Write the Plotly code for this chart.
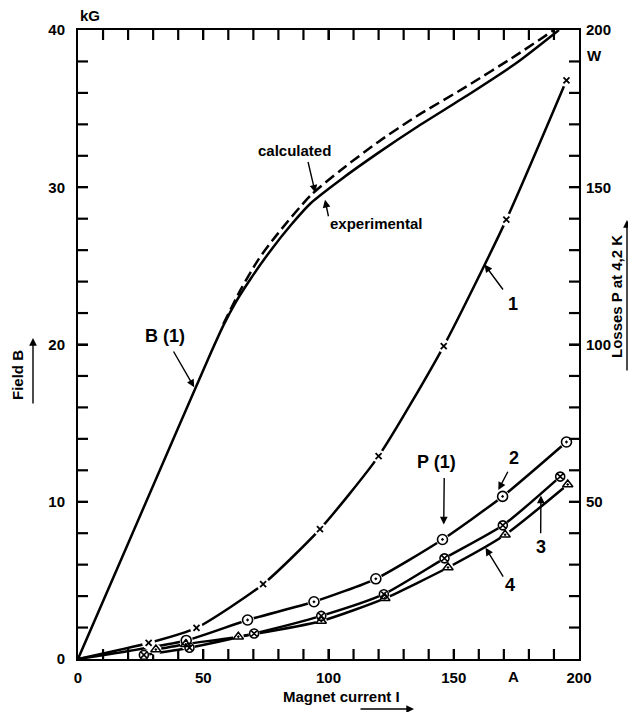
import plotly.graph_objects as go

# ---------------- data ----------------
# Field B(I), experimental (solid) and calculated (dashed), kG vs A
I_B_exp = [0, 20, 40, 52, 58, 63, 69, 77, 85, 93, 105, 120, 135, 155, 175, 192]
B_exp = [0, 7.35, 14.7, 19.1, 21.2, 22.7, 24.2, 26.0, 27.6, 29.0, 30.5, 32.2, 33.8, 35.8, 37.9, 40.0]
I_B_calc = [58, 65, 72, 80, 93, 105, 120, 135, 155, 175, 190]
B_calc = [21.3, 23.5, 25.4, 27.1, 29.5, 31.1, 32.9, 34.5, 36.4, 38.4, 40.0]

# Losses P(I) at 4.2 K, W vs A
I_p1 = [0, 28.2, 47.3, 73.9, 96.6, 120, 146, 171, 195]
P_p1 = [0, 5.1, 9.9, 23.8, 41.3, 64.5, 99.5, 139.7, 184]
I_p2 = [0, 43.2, 67.7, 94.2, 118.9, 145.5, 169.5, 195]
P_p2 = [0, 5.9, 12.4, 18.2, 25.5, 38.0, 51.7, 69.0]
I_p3 = [26.3, 44.5, 70.3, 97.1, 122.1, 146.3, 169.6, 192.5]
P_p3 = [1.3, 3.6, 8.1, 13.7, 20.6, 32.0, 42.5, 58.0]
I_p4 = [31.1, 43.0, 64.0, 97.1, 122.5, 147.7, 170.5, 195.5]
P_p4 = [3.0, 4.7, 7.1, 12.1, 19.3, 29.1, 39.5, 55.5]

# axis ticks
I_label_ticks = [0, 50, 100, 150, 200]
B_label_ticks = [0, 10, 20, 30, 40]
P_label_ticks = [50, 100, 150, 200]
I_tick_marks = list(range(10, 200, 10))
B_tick_marks = list(range(2, 40, 2))
P_tick_marks = list(range(10, 200, 10))

I_RANGE = [0, 200]
B_RANGE = [0, 40]
P_RANGE = [0, 200]

# ---------------- layout geometry ----------------
W, H = 628, 712
ML, MR, MT, MB = 78, 49, 30, 53
PW, PH = W - ML - MR, H - MT - MB
FONT = "Liberation Sans"
TICKLEN = 10
TICKW = 2.2


def pp(xp, yp):
    """pixel -> paper coordinates"""
    return (xp - ML) / PW, (H - MB - yp) / PH


fig = go.Figure()

lw = 2.5
# B curves
fig.add_trace(go.Scatter(x=I_B_exp, y=B_exp, mode="lines",
                         line=dict(color="black", width=lw, shape="spline", smoothing=0.7)))
fig.add_trace(go.Scatter(x=I_B_calc, y=B_calc, mode="lines",
                         line=dict(color="black", width=lw, dash="11px,5px", shape="spline", smoothing=0.7)))

# P curve lines
for xs, ys in [(I_p1, P_p1), (I_p2, P_p2), (I_p3, P_p3), (I_p4, P_p4)]:
    fig.add_trace(go.Scatter(x=xs, y=ys, yaxis="y2", mode="lines",
                             line=dict(color="black", width=lw, shape="spline", smoothing=0.6)))

# white gaps around markers
for xs, ys, sz in [(I_p1[1:], P_p1[1:], 13), (I_p2[1:], P_p2[1:], 13),
                   (I_p3, P_p3, 11), (I_p4, P_p4, 11)]:
    fig.add_trace(go.Scatter(x=xs, y=ys, yaxis="y2", mode="markers",
                             marker=dict(color="white", size=sz, line=dict(width=0))))

# markers
fig.add_trace(go.Scatter(x=I_p1[1:], y=P_p1[1:], yaxis="y2", mode="markers",
                         marker=dict(symbol="x-thin-open", size=6, color="black",
                                     line=dict(color="black", width=1.8))))
fig.add_trace(go.Scatter(x=I_p2[1:], y=P_p2[1:], yaxis="y2", mode="markers",
                         marker=dict(symbol="circle-open-dot", size=10, color="black",
                                     line=dict(color="black", width=1.6))))
fig.add_trace(go.Scatter(x=I_p3, y=P_p3, yaxis="y2", mode="markers",
                         marker=dict(symbol="circle-x-open", size=9, color="black",
                                     line=dict(color="black", width=1.6))))
fig.add_trace(go.Scatter(x=I_p4, y=P_p4, yaxis="y2", mode="markers",
                         marker=dict(symbol="triangle-up-open-dot", size=9, color="black",
                                     line=dict(color="black", width=1.5))))

# inside tick marks, drawn as line segments of TICKLEN pixels at the axis values
dI = TICKLEN / PW * (I_RANGE[1] - I_RANGE[0])
dB = TICKLEN / PH * (B_RANGE[1] - B_RANGE[0])
tx, ty = [], []
for v in I_tick_marks:
    tx += [v, v, None, v, v, None]
    ty += [B_RANGE[0], B_RANGE[0] + dB, None, B_RANGE[1], B_RANGE[1] - dB, None]
for v in B_tick_marks:
    tx += [I_RANGE[0], I_RANGE[0] + dI, None]
    ty += [v, v, None]
fig.add_trace(go.Scatter(x=tx, y=ty, mode="lines", line=dict(color="black", width=TICKW),
                         hoverinfo="skip"))
rx, ry = [], []
for v in P_tick_marks:
    rx += [I_RANGE[1], I_RANGE[1] - dI, None]
    ry += [v, v, None]
fig.add_trace(go.Scatter(x=rx, y=ry, yaxis="y2", mode="lines", line=dict(color="black", width=TICKW),
                         hoverinfo="skip"))

tfont = dict(family=FONT, size=15, color="black", weight="bold")
base = dict(showline=True, linecolor="black", linewidth=2, showgrid=False, zeroline=False,
            ticks="inside", ticklen=TICKLEN, tickwidth=TICKW, tickcolor="black", tickfont=tfont)

fig.update_layout(
    width=W, height=H,
    margin=dict(l=ML, r=MR, t=MT, b=MB),
    paper_bgcolor="white", plot_bgcolor="white",
    showlegend=False,
    xaxis=dict(range=I_RANGE, tickmode="array", tickvals=I_label_ticks, mirror="ticks",
               ticklabelstandoff=4, **base),
    yaxis=dict(range=B_RANGE, tickmode="array", tickvals=B_label_ticks, ticklabelstandoff=8, **base),
    yaxis2=dict(range=P_RANGE, overlaying="y", side="right", tickmode="array",
                tickvals=P_label_ticks, ticklabelstandoff=2, **base),
)

anns = []


def txt(text, x, y, size=14, xref="paper", yref="paper", angle=0):
    anns.append(dict(text=text, x=x, y=y, xref=xref, yref=yref, showarrow=False,
                     textangle=angle, xanchor="center", yanchor="middle",
                     font=dict(family=FONT, size=size, color="black", weight="bold")))


def arrow_data(x, y, ax, ay, width=1.4):
    anns.append(dict(text="", x=x, y=y, ax=ax, ay=ay, xref="x", yref="y", axref="x", ayref="y",
                     showarrow=True, arrowhead=2, arrowsize=1.1, arrowwidth=width,
                     arrowcolor="black", standoff=0, startstandoff=0))


def arrow_px(xp, yp, dx, dy):
    px, py = pp(xp, yp)
    anns.append(dict(text="", x=px, y=py, ax=dx, ay=dy, xref="paper", yref="paper",
                     showarrow=True, arrowhead=2, arrowsize=1.1, arrowwidth=1.4,
                     arrowcolor="black", standoff=0, startstandoff=0))


# axis titles and units
txt("kG", *pp(90, 15), size=15)
txt("W", *pp(594, 56), size=15)
anns.append(dict(text="A", x=174, y=pp(0, 676)[1], xref="x", yref="paper", showarrow=False,
                 yanchor="middle", xanchor="center",
                 font=dict(family=FONT, size=15, color="black", weight="bold")))
txt("Magnet current I", *pp(341, 696), size=15)
arrow_px(414, 709, -55, 0)
txt("Field B", *pp(18, 375), size=15, angle=-90)
arrow_px(33, 338, 0, 67)
txt("Losses P at 4,2 K", *pp(616, 297), size=15, angle=-90)
arrow_px(627, 220, 0, 152)

# curve labels (in data coordinates, kG scale)
txt("calculated", 86.5, 32.35, size=15, xref="x", yref="y")
arrow_data(94.7, 29.66, 91.7, 31.7)
txt("experimental", 119.3, 27.7, size=15, xref="x", yref="y")
arrow_data(98.6, 29.2, 100.1, 28.06)
txt("B (1)", 34.6, 20.55, size=18, xref="x", yref="y")
arrow_data(46.4, 17.28, 37.8, 19.65)
txt("P (1)", 143.1, 12.5, size=18, xref="x", yref="y")
arrow_data(146.0, 8.56, 146.2, 11.6)
txt("1", 173.7, 22.6, size=18, xref="x", yref="y")
arrow_data(162.3, 25.08, 170.1, 23.4)
txt("2", 173.9, 12.8, size=18, xref="x", yref="y")
arrow_data(167.8, 10.75, 171.9, 12.0)
txt("3", 184.7, 7.1, size=18, xref="x", yref="y")
arrow_data(184.8, 10.4, 184.7, 7.9)
txt("4", 172.5, 4.7, size=18, xref="x", yref="y")
arrow_data(162.7, 7.07, 170.1, 5.15)

fig.update_layout(annotations=anns)
fig.write_html("out.html")
